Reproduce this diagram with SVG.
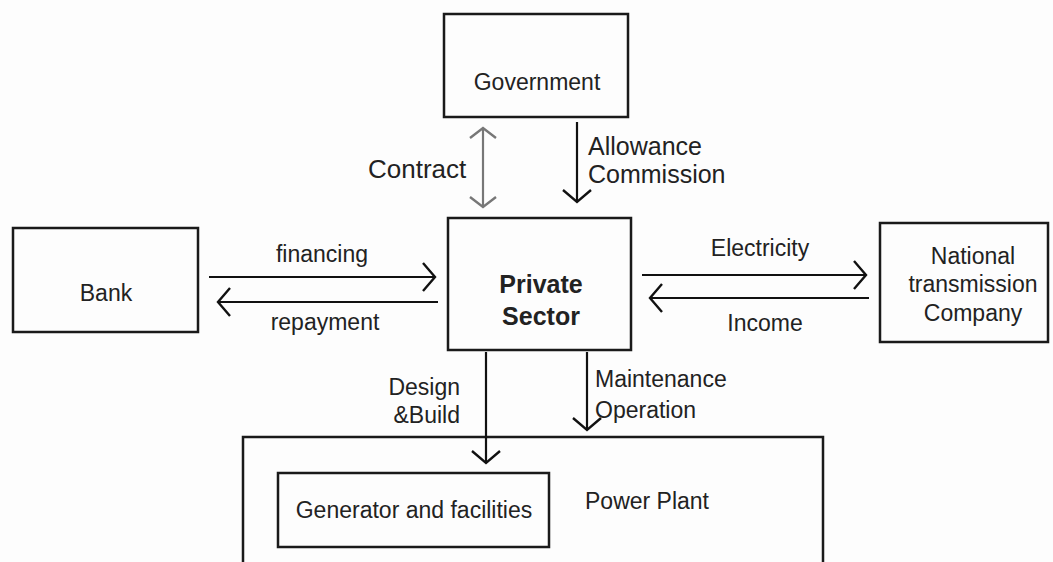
<svg xmlns="http://www.w3.org/2000/svg" width="1053" height="562" viewBox="0 0 1053 562">
<defs>
<style>
.box{fill:none;stroke:#1a1a1a;stroke-width:2.5}
.t{font-family:"Liberation Sans",Arial,sans-serif;font-size:23px;fill:#222}
.b{font-weight:bold;font-size:25px}
.c{text-anchor:middle}
.ln{fill:none;stroke:#111;stroke-width:2.2}
.gr{stroke:#777}
</style>
<marker id="ah" viewBox="-14 -16 16 32" refX="0" refY="0" markerWidth="16" markerHeight="32" markerUnits="userSpaceOnUse" orient="auto-start-reverse">
<path d="M-12,-14 L0,0 L-12,14" fill="none" stroke="#111" stroke-width="2.4"/>
</marker>
<marker id="ahg" viewBox="-14 -16 16 32" refX="0" refY="0" markerWidth="16" markerHeight="32" markerUnits="userSpaceOnUse" orient="auto-start-reverse">
<path d="M-10,-13 L0,0 L-10,13" fill="none" stroke="#777" stroke-width="2.4"/>
</marker>
</defs>
<rect width="1053" height="562" fill="#fdfdfd"/>
<g id="government">
<rect class="box" x="444" y="14" width="184" height="103"/>
<text class="t c" x="537" y="90">Government</text>
</g>
<g id="bank">
<rect class="box" x="13" y="228" width="185" height="104"/>
<text class="t c" x="106" y="301">Bank</text>
</g>
<g id="private-sector">
<rect class="box" x="448" y="218" width="183" height="132"/>
<text class="t b c" x="541" y="293">Private</text>
<text class="t b c" x="541" y="325">Sector</text>
</g>
<g id="national-transmission">
<rect class="box" x="880" y="223" width="168" height="119"/>
<text class="t c" x="973" y="264">National</text>
<text class="t c" x="973" y="292">transmission</text>
<text class="t c" x="973" y="321">Company</text>
</g>
<g id="power-plant">
<rect class="box" x="243" y="437" width="580" height="150"/>
<text class="t" x="585" y="509">Power Plant</text>
</g>
<g id="generator">
<rect class="box" x="278" y="473" width="271" height="74"/>
<text class="t c" x="414" y="518">Generator and facilities</text>
</g>
<g id="connectors">
<line class="ln gr" x1="483" y1="128" x2="483" y2="207" marker-start="url(#ahg)" marker-end="url(#ahg)"/>
<text class="t" x="368" y="178" style="font-size:26px">Contract</text>
<line class="ln" x1="577" y1="122" x2="577" y2="202" marker-end="url(#ah)"/>
<text class="t" x="588" y="155" style="font-size:25px">Allowance</text>
<text class="t" x="588" y="183" style="font-size:25px">Commission</text>
<line class="ln" x1="209" y1="277" x2="435" y2="277" marker-end="url(#ah)"/>
<text class="t c" x="322" y="262">financing</text>
<line class="ln" x1="438" y1="302" x2="218" y2="302" marker-end="url(#ah)"/>
<text class="t c" x="325" y="330">repayment</text>
<line class="ln" x1="642" y1="275" x2="866" y2="275" marker-end="url(#ah)"/>
<text class="t c" x="760" y="256">Electricity</text>
<line class="ln" x1="869" y1="298" x2="650" y2="298" marker-end="url(#ah)"/>
<text class="t c" x="765" y="331">Income</text>
<line class="ln" x1="486" y1="352" x2="486" y2="463" marker-end="url(#ah)"/>
<text class="t" x="460" y="395" text-anchor="end">Design</text>
<text class="t" x="460" y="423" text-anchor="end">&amp;Build</text>
<line class="ln" x1="587" y1="352" x2="587" y2="430" marker-end="url(#ah)"/>
<text class="t" x="595" y="387">Maintenance</text>
<text class="t" x="595" y="418">Operation</text>
</g>
</svg>
